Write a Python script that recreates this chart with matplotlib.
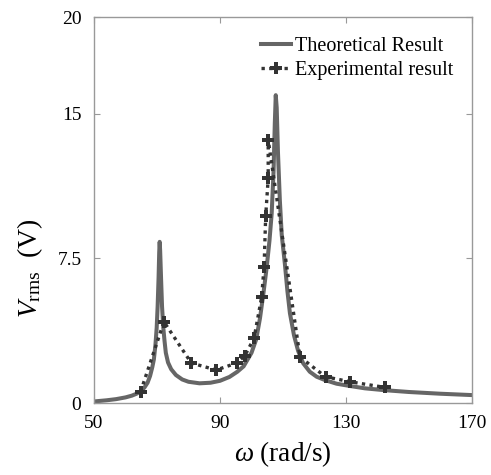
import matplotlib
matplotlib.use("Agg")
import matplotlib.pyplot as plt

plt.rcParams['font.family'] = ['Liberation Serif', 'DejaVu Serif']
plt.rcParams['mathtext.fontset'] = 'custom'
plt.rcParams['mathtext.rm'] = 'Liberation Serif'
plt.rcParams['mathtext.it'] = 'Liberation Serif:italic'

# Theoretical result
theo_w = [50, 54, 57, 60, 62, 63.5, 64.8, 66.0, 67.0, 67.8, 68.5, 69.0, 69.5, 69.9,
          70.2, 70.5, 70.7, 70.85, 71.0, 71.3, 71.6, 72.0, 72.4, 72.8, 73.5, 74.5,
          76, 78, 80, 83.5, 87, 90, 93, 95.5, 97.5, 100, 101.5, 102.7, 103.8, 104.8,
          105.7, 106.4, 107.0, 107.4, 107.7, 108.0, 108.4, 109.0, 109.6, 110.6, 111.4,
          112.2, 113.5, 114.8, 116.4, 118.5, 120.7, 123.3, 127, 131.3, 136, 141.8,
          150, 160, 170]
theo_v = [0.08, 0.14, 0.20, 0.29, 0.38, 0.48, 0.60, 0.80, 1.05, 1.40, 1.85, 2.25, 3.00, 3.90,
          5.00, 6.50, 7.80, 8.35, 7.90, 6.40, 5.00, 3.90, 3.20, 2.60, 2.10, 1.75,
          1.45, 1.22, 1.10, 1.02, 1.05, 1.15, 1.35, 1.62, 1.90, 2.60, 3.30, 4.40, 5.70, 7.00,
          8.40, 9.80, 12.0, 14.5, 15.95, 15.3, 13.0, 10.5, 8.70, 7.20, 5.80,
          4.65, 3.50, 2.70, 2.06, 1.62, 1.36, 1.19, 1.00, 0.88, 0.76, 0.67,
          0.57, 0.48, 0.41]

exp_w = [64.8, 72.2, 80.9, 88.8, 95.3, 97.9, 100.8, 103.2, 104.0, 104.5, 105.3, 105.3,
         115.4, 123.5, 131.3, 142.3]
exp_v = [0.59, 4.21, 2.07, 1.71, 2.07, 2.46, 3.35, 5.47, 7.06, 9.67, 11.64, 13.65,
         2.38, 1.36, 1.10, 0.81]

x_ticks = [50, 90, 130, 170]
y_ticks = [0, 7.5, 15, 20]
y_tick_labels = ['0', '7.5', '15', '20']

fig = plt.figure(figsize=(4.91, 4.75), dpi=100)
ax = fig.add_axes([94/491, 72/475, (472-94)/491, (403-17)/475])

ax.plot(theo_w, theo_v, color='#666666', lw=2.9, label='Theoretical Result', zorder=2)
ax.plot(exp_w, exp_v, color='#333333', lw=2.4, ls=(0, (1, 1.3)), marker='P',
        markersize=8.5, markeredgewidth=0, label='Experimental result', zorder=3)

ax.set_xlim(50, 170)
ax.set_ylim(0, 20)
ax.set_xticks(x_ticks)
ax.set_yticks(y_ticks)
ax.set_yticklabels(y_tick_labels)
ax.tick_params(direction='in', length=4, width=0.8, colors='#999999',
               labelcolor='black', labelsize=14, top=True, right=True)
ax.tick_params(axis='x', pad=9)
ax.tick_params(axis='y', pad=9)
for s in ax.spines.values():
    s.set_color('#999999')
    s.set_linewidth(1.0)

ax.set_xlabel(r'$\omega$ (rad/s)', fontsize=19.5)
ax.xaxis.set_label_coords(0.5, -0.095)
ax.set_ylabel(r'$V_{\mathrm{rms}}$  (V)', fontsize=20)
ax.yaxis.set_label_coords(-0.13, 0.35)

leg = ax.legend(loc='upper right', frameon=False, fontsize=14.5, handlelength=1.5,
                handletextpad=0.2, labelspacing=0.25, borderaxespad=0.0,
                bbox_to_anchor=(0.972, 0.97))

fig.savefig('out.png', dpi=100)
